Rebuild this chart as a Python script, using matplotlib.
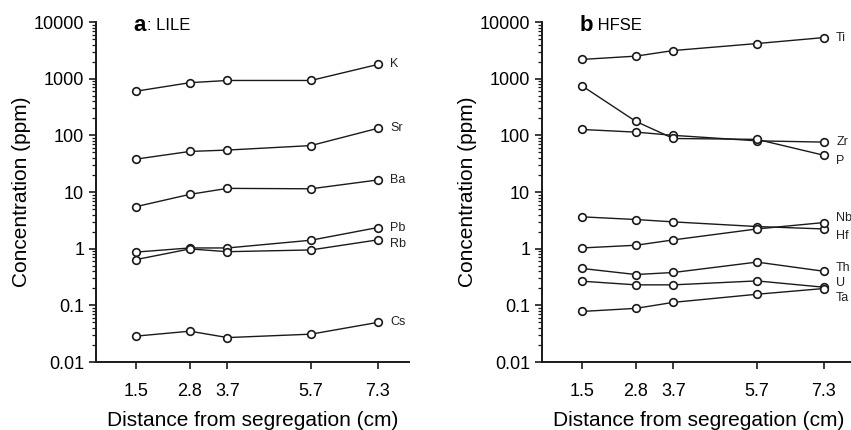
import matplotlib.pyplot as plt
from matplotlib.ticker import LogLocator, FixedFormatter, FixedLocator, NullFormatter

plt.rcParams['font.family'] = ['Liberation Sans', 'DejaVu Sans']

distance = [1.5, 2.8, 3.7, 5.7, 7.3]

# panel a: LILE
lile = {
    'K':  [600, 850, 930, 930, 1780],
    'Sr': [38, 52, 55, 66, 133],
    'Ba': [5.5, 9.1, 11.6, 11.4, 16.3],
    'Pb': [0.87, 1.03, 1.03, 1.41, 2.36],
    'Rb': [0.64, 0.99, 0.885, 0.95, 1.43],
    'Cs': [0.0286, 0.035, 0.027, 0.031, 0.050],
}

# panel b: HFSE
hfse = {
    'Ti': [2185, 2500, 3140, 4170, 5310],
    'Zr': [127, 114, 100, 80, 76],
    'P':  [754, 176, 88, 85, 44.6],
    'Hf': [3.65, 3.27, 2.97, 2.46, 2.23],
    'Nb': [1.03, 1.15, 1.43, 2.23, 2.89],
    'Th': [0.448, 0.35, 0.38, 0.58, 0.40],
    'U':  [0.267, 0.23, 0.23, 0.27, 0.209],
    'Ta': [0.078, 0.0885, 0.113, 0.157, 0.198],
}

# vertical nudge (points) of the end labels
nudge_a = {'K': 0, 'Sr': 0, 'Ba': 0, 'Pb': 0, 'Rb': -3, 'Cs': 0}
nudge_b = {'Ti': 0, 'Zr': 0, 'P': -4, 'Hf': -5, 'Nb': 3, 'Th': 2, 'U': 3, 'Ta': -7}

ytick_vals = [0.01, 0.1, 1, 10, 100, 1000, 10000]
ytick_labels = ['0.01', '0.1', '1', '10', '100', '1000', '10000']

fig = plt.figure(figsize=(8.51, 4.30), dpi=100)
ax_a = fig.add_axes([0.1128, 0.1581, 0.3678, 0.7907])
ax_b = fig.add_axes([0.6369, 0.1581, 0.3678, 0.7907])


def draw_panel(ax, data, nudge, bold, rest):
    for name, vals in data.items():
        ax.plot(distance, vals, color='#1a1a1a', lw=1.0, marker='o', ms=5.5,
                mfc='white', mec='#1a1a1a', mew=1.2, zorder=3, clip_on=False)
        ax.annotate(name, (distance[-1], vals[-1]), xytext=(9, nudge[name]),
                    textcoords='offset points', ha='left', va='center',
                    fontsize=9, color='#222222', annotation_clip=False)
    ax.set_yscale('log')
    ax.set_ylim(0.01, 10000)
    ax.set_xlim(0.55, 8.05)
    ax.yaxis.set_major_locator(FixedLocator(ytick_vals))
    ax.yaxis.set_major_formatter(FixedFormatter(ytick_labels))
    ax.yaxis.set_minor_locator(LogLocator(base=10, subs=range(2, 10)))
    ax.yaxis.set_minor_formatter(NullFormatter())
    ax.set_xticks(distance)
    ax.set_xticklabels([str(d) for d in distance])
    for s in ['top', 'right']:
        ax.spines[s].set_visible(False)
    for s in ['left', 'bottom']:
        ax.spines[s].set_linewidth(1.4)
        ax.spines[s].set_color('#1a1a1a')
    ax.tick_params(axis='both', which='major', length=5, width=1.2,
                   labelsize=13, color='#1a1a1a')
    ax.tick_params(axis='y', which='minor', length=3, width=0.9, color='#1a1a1a')
    ax.tick_params(axis='x', pad=10)
    ax.set_xlabel('Distance from segregation (cm)', fontsize=15, labelpad=8)
    ax.set_ylabel('Concentration (ppm)', fontsize=15, labelpad=2)
    ax.text(0.12, 0.99, bold, transform=ax.transAxes, fontsize=16,
            fontweight='bold', ha='left', va='center')
    ax.text(0.12 + 0.042, 0.99, rest, transform=ax.transAxes, fontsize=12,
            ha='left', va='center')


draw_panel(ax_a, lile, nudge_a, 'a', ': LILE')
draw_panel(ax_b, hfse, nudge_b, 'b', ' HFSE')

fig.savefig('out.png', dpi=100)
